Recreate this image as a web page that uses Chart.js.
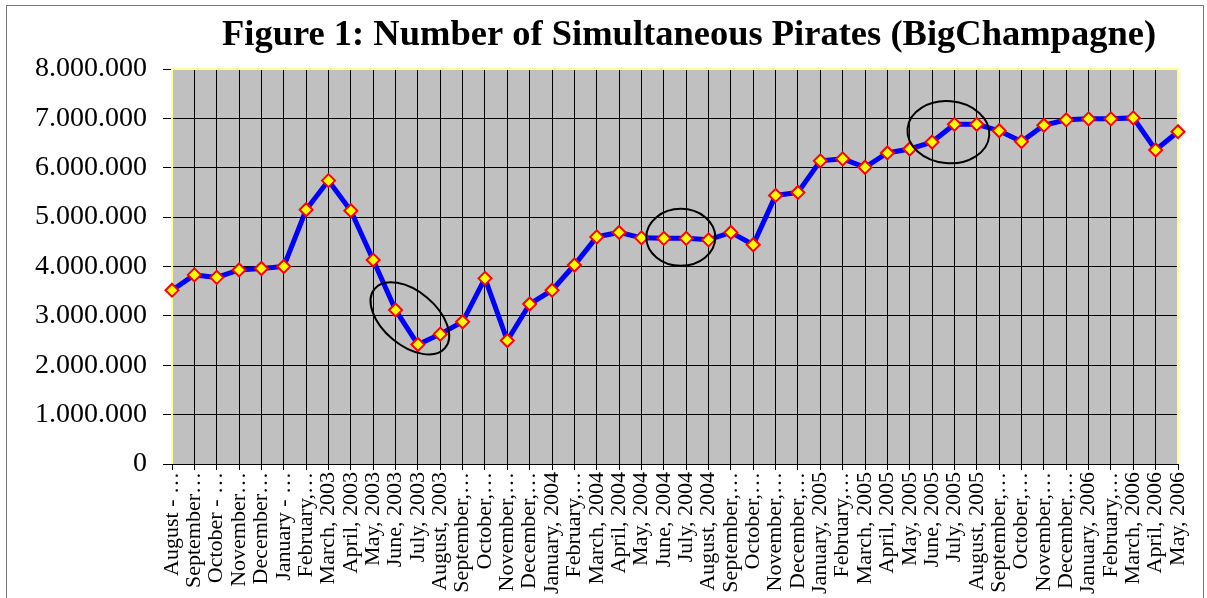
<!DOCTYPE html>
<html>
<head>
<meta charset="utf-8">
<script src="https://cdn.jsdelivr.net/npm/chart.js@4.4.1/dist/chart.umd.min.js"></script>
<style>
  html, body { margin: 0; padding: 0; background: #fff; }
  #caixa { position: relative; width: 1207px; height: 598px; }
</style>
</head>
<body>
<div id="caixa"><canvas id="grafico"></canvas></div>
<script>
// === DADOS ===
const meses = [
  'August - …', 'September…', 'October - …', 'November…', 'December…',
  'January - …', 'February,…', 'March, 2003', 'April, 2003', 'May, 2003',
  'June, 2003', 'July, 2003', 'August, 2003', 'September,…', 'October,…',
  'November,…', 'December,…', 'January, 2004', 'February,…', 'March, 2004',
  'April, 2004', 'May, 2004', 'June, 2004', 'July, 2004', 'August, 2004',
  'September,…', 'October,…', 'November,…', 'December,…', 'January, 2005',
  'February,…', 'March, 2005', 'April, 2005', 'May, 2005', 'June, 2005',
  'July, 2005', 'August, 2005', 'September,…', 'October,…', 'November,…',
  'December,…', 'January, 2006', 'February,…', 'March, 2006', 'April, 2006',
  'May, 2006'
];

const piratas = [
  3520000, 3830000, 3780000, 3930000, 3960000, 4000000, 5150000, 5740000,
  5130000, 4130000, 3120000, 2420000, 2630000, 2880000, 3760000, 2500000,
  3240000, 3520000, 4030000, 4600000, 4690000, 4580000, 4570000, 4570000,
  4540000, 4690000, 4440000, 5440000, 5500000, 6140000, 6180000, 6010000,
  6300000, 6380000, 6520000, 6880000, 6880000, 6750000, 6530000, 6860000,
  6970000, 6990000, 6990000, 7010000, 6360000, 6730000
];

const ticksY = [0, 1000000, 2000000, 3000000, 4000000, 5000000, 6000000, 7000000, 8000000];

// circulos de destaque (posicao em indice do mes / valor)
const destaqueIndice = [10.64, 22.76, 34.73];
const destaqueValor = [2950000, 4590000, 6720000];

const titulo = 'Figure 1: Number of Simultaneous Pirates (BigChampagne)';
const fonte = "'Liberation Serif', 'Times New Roman', serif";

// === PLUGIN: fundo, moldura, titulo e elipses ===
const moldura = {
  id: 'moldura',
  beforeDraw(chart) {
    const { ctx, chartArea: a } = chart;
    ctx.save();
    ctx.fillStyle = '#fff';
    ctx.fillRect(0, 0, chart.width, chart.height);
    ctx.fillStyle = '#c0c0c0';
    ctx.fillRect(a.left, a.top, a.right - a.left, a.bottom - a.top);
    ctx.strokeStyle = '#777';
    ctx.lineWidth = 1;
    ctx.strokeRect(6.5, 5.5, 1197, 600);
    ctx.fillStyle = '#000';
    ctx.font = 'bold 36.5px ' + fonte;
    ctx.textAlign = 'center';
    ctx.textBaseline = 'alphabetic';
    ctx.fillText(titulo, (a.left + a.right) / 2 + 14, 45);
    ctx.restore();
  },
  beforeDatasetsDraw(chart) {
    const { ctx, chartArea: a } = chart;
    ctx.save();
    ctx.strokeStyle = '#ffff99';
    ctx.lineWidth = 2;
    ctx.beginPath();
    ctx.moveTo(a.left, a.bottom);
    ctx.lineTo(a.left, a.top);
    ctx.lineTo(a.right, a.top);
    ctx.lineTo(a.right, a.bottom);
    ctx.stroke();
    ctx.strokeStyle = '#000';
    ctx.lineWidth = 1;
    ctx.beginPath();
    ctx.moveTo(a.left, a.bottom + 0.5);
    ctx.lineTo(a.right, a.bottom + 0.5);
    ctx.stroke();
    ctx.restore();
  },
  afterDatasetsDraw(chart) {
    const { ctx } = chart;
    const x = chart.scales.x, y = chart.scales.y;
    const formas = [[46, 27, 40], [34.5, 28.5, 0], [41, 31, 5]];
    ctx.save();
    ctx.strokeStyle = '#000';
    ctx.lineWidth = 2;
    destaqueIndice.forEach((ind, i) => {
      const px = x.getPixelForValue(ind);
      const py = y.getPixelForValue(destaqueValor[i]);
      const [rx, ry, ang] = formas[i];
      ctx.beginPath();
      ctx.ellipse(px, py, rx, ry, ang * Math.PI / 180, 0, Math.PI * 2);
      ctx.stroke();
    });
    ctx.restore();
  }
};

// === CRIAR O GRAFICO ===
const ctx = document.getElementById('grafico');
const grafico = new Chart(ctx, {
  type: 'line',
  data: {
    labels: meses,
    datasets: [{
      label: 'Pirates',
      data: piratas,
      borderColor: '#0000ff',
      borderWidth: 5,
      tension: 0,
      pointStyle: 'rectRot',
      pointRadius: 6.5,
      pointBackgroundColor: '#ffff00',
      pointBorderColor: '#ff0000',
      pointBorderWidth: 2
    }]
  },
  options: {
    responsive: true,
    maintainAspectRatio: false,
    animation: false,
    layout: { padding: { top: 69, right: 29, left: 0, bottom: 0 } },
    plugins: {
      legend: { display: false },
      title: { display: false },
      tooltip: { enabled: false }
    },
    scales: {
      x: {
        offset: false,
        grid: { color: '#000', lineWidth: 1, tickLength: 6, tickColor: '#000', offset: false },
        border: { display: false },
        ticks: {
          autoSkip: false,
          maxRotation: 90,
          minRotation: 90,
          padding: 2,
          color: '#000',
          font: { family: fonte, size: 22 }
        },
        afterFit(scale) { scale.height = 134; }
      },
      y: {
        min: 0,
        max: 8000000,
        afterBuildTicks(scale) { scale.ticks = ticksY.map(v => ({ value: v })); },
        grid: { color: '#000', lineWidth: 1, tickLength: 9, tickColor: '#000' },
        border: { display: false },
        ticks: {
          padding: 16,
          color: '#000',
          font: { family: fonte, size: 28 },
          callback: v => v.toLocaleString('de-DE')
        },
        afterFit(scale) { scale.width = 172; }
      }
    }
  },
  plugins: [moldura]
});
</script>
</body>
</html>
